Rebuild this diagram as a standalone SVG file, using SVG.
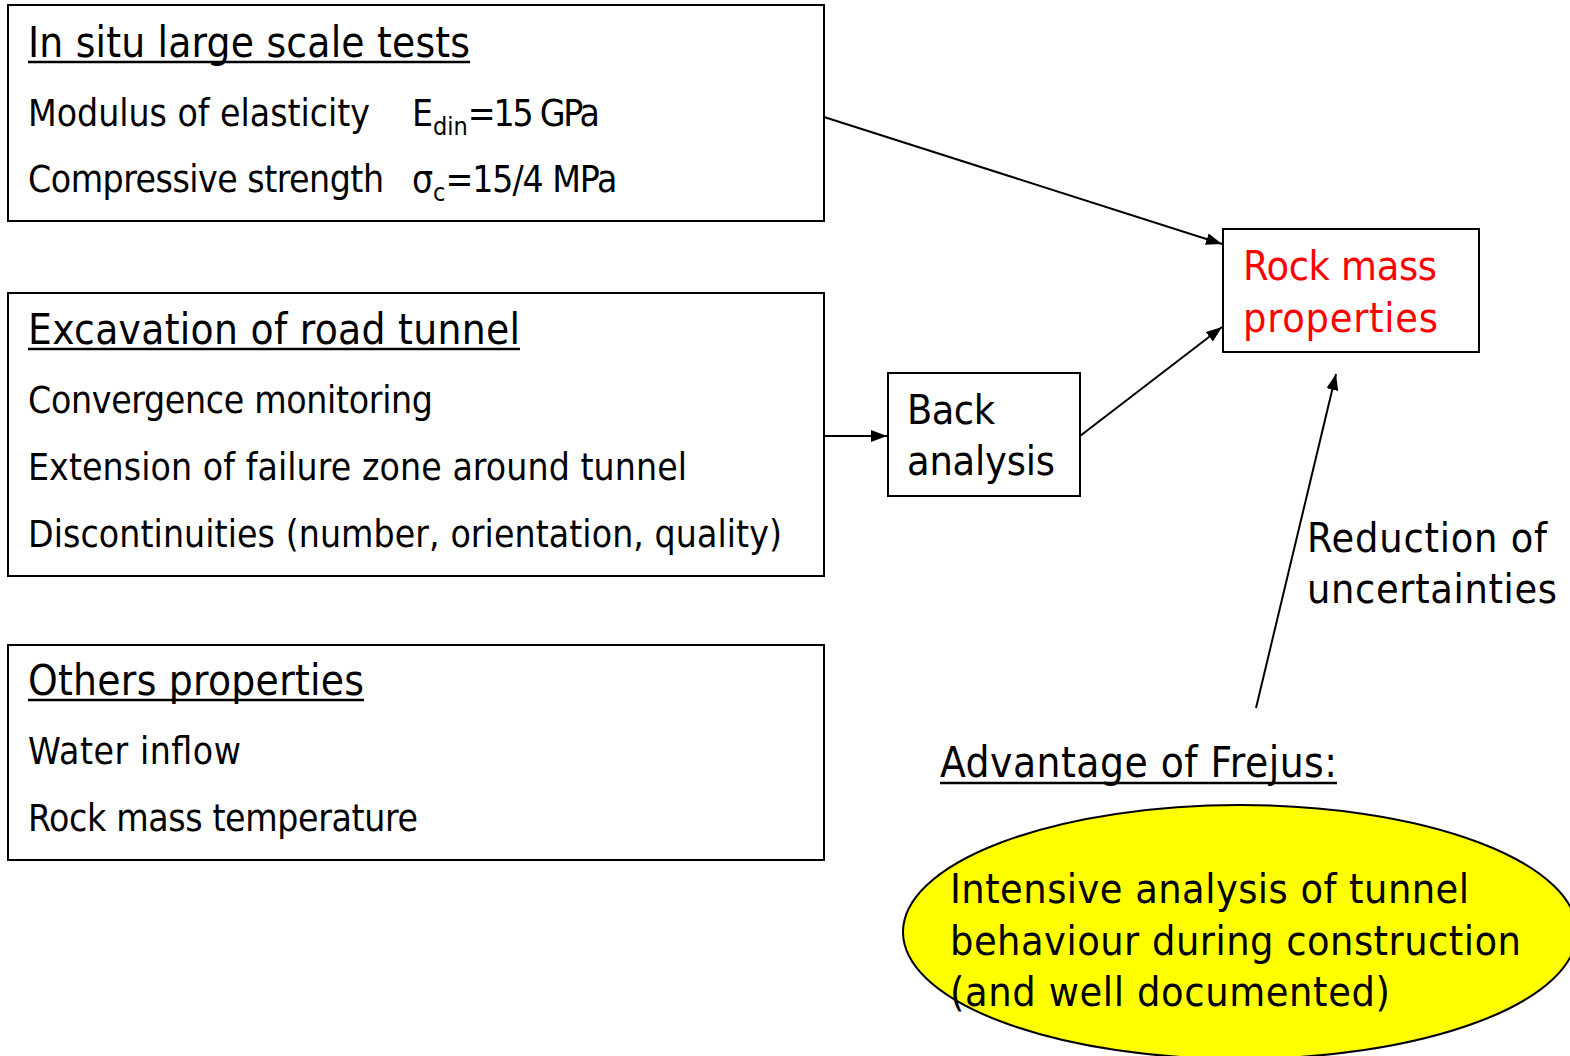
<svg xmlns="http://www.w3.org/2000/svg" width="1570" height="1056" viewBox="0 0 1570 1056">
<style>
text{font-family:"DejaVu Sans Condensed","DejaVu Sans",sans-serif;font-stretch:condensed;fill:#000}
.t{font-size:42px}
.b{font-size:37px}
.m{font-size:41px}
.s{font-size:25px}
.red{fill:#ff0000}
.box{fill:#fff;stroke:#000;stroke-width:2}
.ul{stroke:#000;stroke-width:2.5}
.c{stroke:#000;stroke-width:2;fill:none}
</style>
<defs>
<marker id="ah" viewBox="0 0 10 10" refX="10" refY="5" markerWidth="16" markerHeight="12" markerUnits="userSpaceOnUse" orient="auto" preserveAspectRatio="none">
<path d="M0,0 L10,5 L0,10 z" fill="#000"/>
</marker>
</defs>
<rect width="1570" height="1056" fill="#fff"/>
<g id="ellipse-node">
<ellipse cx="1240" cy="932" rx="337" ry="127" fill="#ffff00" stroke="#000" stroke-width="2"/>
<text class="m" x="950" y="903" textLength="519">Intensive analysis of tunnel</text>
<text class="m" x="950" y="955" textLength="571">behaviour during construction</text>
<text class="m" x="950" y="1006" textLength="440">(and well documented)</text>
</g>
<g id="insitu">
<rect class="box" x="8" y="5" width="816" height="216"/>
<text class="t" x="28" y="57" textLength="442">In situ large scale tests</text>
<line class="ul" x1="28" y1="62" x2="470" y2="62"/>
<text class="b" x="28" y="126" textLength="342">Modulus of elasticity</text>
<text class="b" x="412" y="126"><tspan>E</tspan><tspan class="s" dy="9">din</tspan><tspan dy="-9" textLength="132">=15 GPa</tspan></text>
<text class="b" x="28" y="192" textLength="356">Compressive strength</text>
<text class="b" x="412" y="192"><tspan>σ</tspan><tspan class="s" dy="9">c</tspan><tspan dy="-9" textLength="172">=15/4 MPa</tspan></text>
</g>
<g id="excavation">
<rect class="box" x="8" y="293" width="816" height="283"/>
<text class="t" x="28" y="344" textLength="492">Excavation of road tunnel</text>
<line class="ul" x1="28" y1="349" x2="520" y2="349"/>
<text class="b" x="28" y="413" textLength="405">Convergence monitoring</text>
<text class="b" x="28" y="480" textLength="659">Extension of failure zone around tunnel</text>
<text class="b" x="28" y="547" textLength="754">Discontinuities (number, orientation, quality)</text>
</g>
<g id="others">
<rect class="box" x="8" y="645" width="816" height="215"/>
<text class="t" x="28" y="695" textLength="336">Others properties</text>
<line class="ul" x1="28" y1="700" x2="364" y2="700"/>
<text class="b" x="28" y="764" textLength="213">Water inflow</text>
<text class="b" x="28" y="831" textLength="390">Rock mass temperature</text>
</g>
<g id="back">
<rect class="box" x="888" y="373" width="192" height="123"/>
<text class="m" x="907" y="424" textLength="88">Back</text>
<text class="m" x="907" y="475" textLength="148">analysis</text>
</g>
<g id="rockmass">
<rect class="box" x="1223" y="229" width="256" height="123"/>
<text class="m red" x="1243" y="280" textLength="194">Rock mass</text>
<text class="m red" x="1243" y="332" textLength="195">properties</text>
</g>
<g id="reduction">
<text class="m" x="1307" y="552" textLength="240">Reduction of</text>
<text class="m" x="1307" y="603" textLength="250">uncertainties</text>
</g>
<g id="advantage">
<text class="t" x="940" y="777" textLength="397">Advantage of Frejus:</text>
<line class="ul" x1="940" y1="783" x2="1337" y2="783"/>
</g>
<g id="connectors">
<line class="c" x1="824" y1="117" x2="1222" y2="244" marker-end="url(#ah)"/>
<line class="c" x1="824" y1="436" x2="887" y2="436" marker-end="url(#ah)"/>
<line class="c" x1="1080" y1="436" x2="1222" y2="327" marker-end="url(#ah)"/>
<line class="c" x1="1256" y1="708" x2="1336" y2="374" marker-end="url(#ah)"/>
</g>
</svg>
